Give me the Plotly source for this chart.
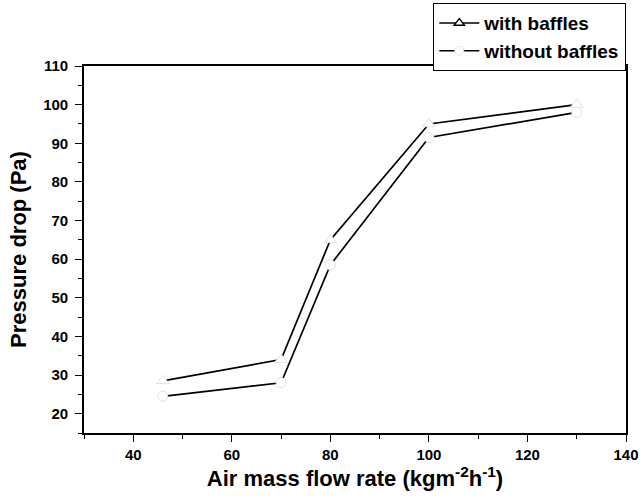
import plotly.graph_objects as go

flow_rate = [46, 70, 80, 100, 130]
with_baffles = [28.5, 34, 65, 95, 100]
without_baffles = [24.5, 28, 58.5, 91.5, 98]

FONT = "Liberation Sans, Arial, sans-serif"

fig = go.Figure()
# data traces (markers faint, white fill creates gaps at points)
fig.add_trace(go.Scatter(
    x=flow_rate, y=with_baffles, mode="lines+markers", showlegend=False,
    line=dict(color="black", width=1.7),
    marker=dict(symbol="triangle-up", size=11, color="white",
                line=dict(width=1, color="#e2e2e2")),
))
fig.add_trace(go.Scatter(
    x=flow_rate, y=without_baffles, mode="lines+markers", showlegend=False,
    line=dict(color="black", width=1.7),
    marker=dict(symbol="circle", size=10, color="white",
                line=dict(width=1, color="#e2e2e2")),
))
# legend entries
fig.add_trace(go.Scatter(
    x=[None], y=[None], mode="lines+markers", name="with baffles",
    line=dict(color="black", width=1.6),
    marker=dict(symbol="triangle-up", size=9, color="white",
                line=dict(width=1.4, color="black")),
))
fig.add_trace(go.Scatter(
    x=[None], y=[None], mode="lines+markers", name="without baffles",
    line=dict(color="black", width=1.6),
    marker=dict(symbol="circle", size=9, color="white",
                line=dict(width=1, color="#e6e6e6")),
))

axis_common = dict(
    showgrid=False, zeroline=False, showline=True, linecolor="black",
    linewidth=1.6, mirror=True, ticks="outside", ticklen=7, tickwidth=1.4,
    tickcolor="black",
    tickfont=dict(family=FONT, size=15, color="black", weight="bold"),
)

fig.update_layout(
    width=644, height=502,
    margin=dict(l=84, r=18, t=66, b=69, autoexpand=False),
    paper_bgcolor="white", plot_bgcolor="white",
    font=dict(family=FONT, color="black"),
    xaxis=dict(
        range=[30, 140], tick0=0, dtick=20,
        minor=dict(dtick=10, ticks="outside", ticklen=4, tickcolor="black", tickwidth=1.2),
        title=dict(text="Air mass flow rate (kgm<sup>-2</sup>h<sup>-1</sup>)",
                   font=dict(family=FONT, size=22, weight="bold"), standoff=8),
        **axis_common,
    ),
    yaxis=dict(
        range=[15, 110], tick0=0, dtick=10,
        minor=dict(dtick=5, ticks="outside", ticklen=4, tickcolor="black", tickwidth=1.2),
        title=dict(text="Pressure drop (Pa)",
                   font=dict(family=FONT, size=22, weight="bold"), standoff=10),
        ticklabelstandoff=4,
        **axis_common,
    ),
    legend=dict(
        x=1, xanchor="right", y=1.172, yanchor="top",
        bordercolor="black", borderwidth=1.3, bgcolor="white",
        font=dict(family=FONT, size=19, color="black", weight="bold"),
        tracegroupgap=0, itemwidth=40,
    ),
)

fig.write_html("out.html")
